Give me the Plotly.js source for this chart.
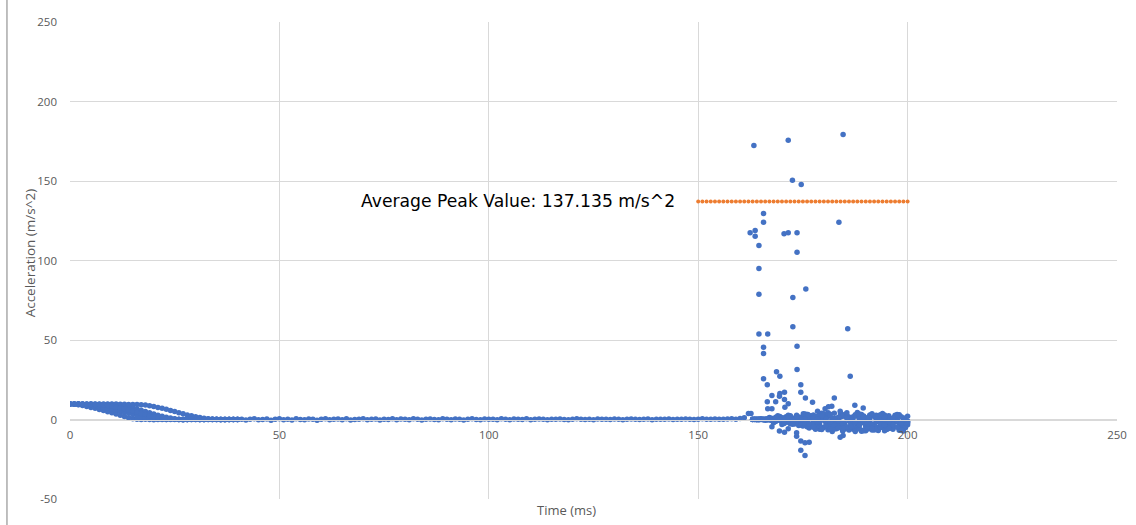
<!DOCTYPE html>
<html>
<head>
<meta charset="utf-8">
<script src="https://cdn.plot.ly/plotly-3.0.1.min.js"></script>
<style>html,body{margin:0;padding:0;background:#fff;}#chart{width:1136px;height:525px;}</style>
</head>
<body>
<div id="chart"></div>
<script>
// ---- data ----
// drop phase (0-40 ms), five overlaid trials
const dropTime = [0,1,2,3,4,5,6,7,8,9,10,11,12,13,14,15,16,17,18,19,20,21,22,23,24,25,26,27,28,29,30,31,32,33,34,35,36,37,38,39,40];
const drop1 = [9.8,9.6,9.3,8.8,8.2,7.6,7.0,6.3,5.6,4.9,4.2,3.5,2.7,1.9,1.1,0.4,0.1,0,0.1,0,-0.1,0,0.1,0,0,0.1,0,-0.1,0,0,0.1,0,0,0.1,0,0,-0.1,0,0.1,0,0];
const drop2 = [9.8,9.8,9.7,9.7,9.6,9.3,8.8,8.2,7.6,7.0,6.4,5.8,5.2,4.6,3.9,3.2,2.5,1.8,1.2,0.7,0.3,0.1,0,0,0.1,0,0,-0.1,0,0.1,0,0,0,0.1,0,0,0,-0.1,0,0,0.1];
const drop3 = [9.6,9.6,9.5,9.6,9.5,9.5,9.6,9.5,9.4,9.5,9.4,9.3,9.1,8.6,8.0,7.3,6.6,5.8,5.0,4.2,3.4,2.7,2.0,1.4,0.9,0.5,0.2,0.1,0,0,0.1,0,0,0,0.1,0,0,0,0,0.1,0];
const drop4 = [9.9,9.8,9.9,9.8,9.8,9.9,9.8,9.8,9.7,9.8,9.7,9.7,9.6,9.6,9.5,9.5,9.4,9.3,9.1,8.7,8.2,7.6,7.0,6.4,5.7,5.0,4.3,3.6,2.9,2.3,1.7,1.2,0.8,0.5,0.3,0.2,0.1,0.1,0,0,0];
const drop5 = [9.7,9.7,9.7,9.6,9.6,9.5,9.5,9.4,9.2,8.8,8.3,7.7,7.1,6.5,5.9,5.2,4.5,3.8,3.1,2.4,1.8,1.2,0.7,0.4,0.2,0.1,0,0,0,0.1,0,0,0,0,0,0.1,0,0,0,0,0];

// free-fall phase (41-162 ms)
const fallTime = [41,42,43,44,45,46,47,48,49,50,51,52,53,54,55,56,57,58,59,60,61,62,63,64,65,66,67,68,69,70,71,72,73,74,75,76,77,78,79,80,81,82,83,84,85,86,87,88,89,90,91,92,93,94,95,96,97,98,99,100,101,102,103,104,105,106,107,108,109,110,111,112,113,114,115,116,117,118,119,120,121,122,123,124,125,126,127,128,129,130,131,132,133,134,135,136,137,138,139,140,141,142,143,144,145,146,147,148,149,150,151,152,153,154,155,156,157,158,159,160,161,162];
const fallAcc = [0.2,-0.3,0.1,0.4,-0.2,0,0.3,-0.4,0.2,0.5,-0.1,0.2,-0.3,0.4,0,-0.2,0.3,0.1,-0.4,0.2,0.5,-0.2,0.1,0.3,-0.1,0.4,-0.3,0,0.2,0.4,-0.2,0.1,0.3,-0.3,0.2,0,0.4,-0.2,0.3,0.1,-0.1,0.5,0.2,-0.3,0.1,0.3,0,-0.2,0.4,0.2,-0.1,0.3,0.1,-0.3,0.2,0.4,0,-0.2,0.3,0.1,0.2,-0.2,0.4,0.1,-0.1,0.3,0.2,0,0.4,-0.2,0.1,0.3,0.2,-0.1,0.2,0.1,0.3,0,-0.2,0.2,0.4,0.1,0,0.2,-0.1,0.3,0.1,0.2,0,0.3,0.2,-0.1,0.1,0.3,0.2,0,0.1,0.3,-0.1,0.2,0.2,0.1,0.3,0,0.2,0.1,0.3,0.2,0,0.1,0.4,0.2,0.1,0.3,0.2,0.1,0.3,0.4,0.2,0.6,1.1,3.8];

// impact phase (163-200 ms), dense oscillation of the overlaid trials
const impactTime = [163,164,165,166,167,168,169,170,171,172,173,174,175,176,177,178,179,180,181,182,183,184,185,186,187,188,189,190,191,192,193,194,195,196,197,198,199,200];
const impact1 = [0,0.2,0.1,-0.5,1.2,-2.1,2.3,-3.1,1.8,-2.6,0.9,-3.8,2.1,-4.5,1.5,-3.2,2.8,-5.1,1.9,-4.2,0.6,-3.5,2.2,-5.4,1.1,-3.9,0.4,-4.6,2.5,-3.1,1.2,-4.8,0.3,-2.9,1.7,-4.1,0.8,-3.3];
const impact2 = [0.1,0,0.3,0.1,0,-0.2,0.4,1.1,-1.5,2.4,-2.8,0.6,-1.9,3.1,-4.2,1.4,-6.1,2.7,-3.3,0.2,-5.5,3.4,-2.4,-0.8,-6.2,2.1,-1.7,-3.6,1.5,-5.8,-0.4,0.9,-4.4,-1.8,2.6,-5.2,-0.6,-2.2];
const impact3 = [0,0.1,0,0.2,0,0.1,-0.1,0,0.2,0.5,-0.8,1.6,-2.3,0.9,2.4,-3.7,-1.2,3.6,-6.4,0.5,-2.7,4.1,-3.9,-6.6,1.8,-2.2,3.2,-7.1,-0.9,1.9,-4.9,2.3,-6.3,0.7,-1.4,3.0,-5.6,-1.1];
const impact4 = [0.2,0,0.1,0,-0.1,0.1,0,0.3,0.1,0,0.2,-0.3,0.4,-1.1,2.2,0.8,-3.4,-0.5,4.2,-2.1,-5.8,1.6,3.1,-4.8,-1.5,4.4,-6.7,0.2,2.9,-3.8,-6.9,3.7,-0.3,-5.4,1.3,-3.0,-7.2,2.0];
const impact5 = [0,-0.1,0.1,0,0.3,-0.4,0.9,-1.6,0.3,-2.4,-0.7,1.3,-4.1,-2.9,0.4,-6.2,-1.8,1.1,-4.4,-7.5,-0.9,-3.1,-6.0,1.5,-5.1,-2.6,-7.4,-0.2,-4.3,-6.6,1.0,-2.4,-5.9,-3.5,-0.8,-6.8,-4.0,-1.6];
const impactTimeHalf = [163.5,164.5,165.5,166.5,167.5,168.5,169.5,170.5,171.5,172.5,173.5,174.5,175.5,176.5,177.5,178.5,179.5,180.5,181.5,182.5,183.5,184.5,185.5,186.5,187.5,188.5,189.5,190.5,191.5,192.5,193.5,194.5,195.5,196.5,197.5,198.5,199.5];
const impact6 = [0.1,0,0.2,-0.3,0.8,-1.2,1.9,-2.5,2.7,-1.4,0.3,-3.2,1.6,-5.3,2.8,-4.0,0.9,-2.2,3.3,-6.0,-1.3,2.0,-4.7,-0.5,3.0,-5.9,-2.1,1.2,-3.4,-6.3,0.6,-1.9,2.4,-4.5,-0.7,1.8,-5.0];
const impact7 = [0,0.1,0,0.2,-0.1,0.3,-0.6,0.9,-1.8,0.4,2.6,-3.5,-0.2,1.7,-4.8,-2.3,3.9,-1.0,-5.6,-3.0,1.4,-6.8,2.5,-2.8,-5.3,0.1,-7.0,-3.9,3.6,-1.6,-5.1,2.9,-3.7,-6.1,0.5,-2.6,-4.2];
const impact8 = [0.2,0,0.1,0,0.2,0,0.1,-0.2,0.4,-0.9,1.3,-2.0,0.7,-3.3,-1.5,2.1,-5.0,-0.6,-2.9,4.0,-4.1,-7.3,0.8,-3.2,-6.4,3.5,-1.2,-6.0,-3.0,2.7,-4.6,-7.1,-0.4,-3.8,3.2,-6.5,-2.0];
const impact9 = [0,-0.1,0,0.1,0,-0.2,0.2,0,0.3,-0.4,-1.1,0.6,-2.4,-4.3,1.1,-1.7,-6.3,0.3,2.9,-3.6,-0.8,-5.4,1.9,-2.3,-7.6,-1.1,2.2,-4.9,-6.6,0.0,-2.7,1.6,-5.7,-3.1,-1.0,-6.9,0.9];
const impact10 = [0.1,0.3,-0.2,0.5,-0.7,1.4,-0.3,-2.2,0.9,-3.0,1.8,-0.5,3.4,-2.7,-4.6,0.5,2.3,-3.9,-1.6,0.7,-5.2,-2.4,4.3,-4.4,-1.9,-3.6,1.5,-2.5,-5.5,-1.3,3.0,-3.3,-1.4,1.0,-4.8,-2.1,-0.3];

// impact outliers (scattered spikes)
const spikeTime = [163.3,171.5,184.6,172.5,174.6,165.6,165.6,183.6,162.4,163.6,163.6,170.5,171.5,173.6,164.5,173.6,164.5,164.5,175.7,172.6,172.6,185.7,164.5,166.6,165.6,165.6,173.6,173.6,168.7,169.5,186.3,165.6,166.5,174.5,174.5,175.6,169.5,170.6,167.6,169.4,166.5,168.5,170.6,171.5,170.7,167.6,166.6,177.3,182.5,181.9,181.1,180.3,178.5,187.4,189.4,162.6,175.1,176.2,183.9,167.6,169.4,170.6,171.5,173.5,173.5,174.5,175.5,176.5,174.5,175.5,183.9,184.6];
const spikeAcc = [172.3,175.7,179.2,150.5,147.8,129.6,124.1,124.1,117.4,118.9,115.3,116.8,117.4,117.4,109.4,105.2,95,78.8,82,76.7,58.3,57,53.7,53.7,45.5,41.5,46.1,31.4,30,27.2,27.2,25.6,21.8,21.8,17.2,13.6,16.4,17.2,15.1,14.7,11.1,11.1,12.6,9.9,7.7,6.7,6.7,10.9,13.6,8.4,8,6.7,5.2,9,7.3,3.8,3.6,3.1,5.2,-4.6,-7.3,-8,-5.8,-8.4,-10.5,-13.6,-14.7,-14.3,-19.3,-22.6,-11.1,-10.1];

// average peak line
const avgTime = [150,151,152,153,154,155,156,157,158,159,160,161,162,163,164,165,166,167,168,169,170,171,172,173,174,175,176,177,178,179,180,181,182,183,184,185,186,187,188,189,190,191,192,193,194,195,196,197,198,199,200];
const avgAcc = [137.135,137.135,137.135,137.135,137.135,137.135,137.135,137.135,137.135,137.135,137.135,137.135,137.135,137.135,137.135,137.135,137.135,137.135,137.135,137.135,137.135,137.135,137.135,137.135,137.135,137.135,137.135,137.135,137.135,137.135,137.135,137.135,137.135,137.135,137.135,137.135,137.135,137.135,137.135,137.135,137.135,137.135,137.135,137.135,137.135,137.135,137.135,137.135,137.135,137.135,137.135];
const avgLabel = "Average Peak Value: 137.135 m/s^2";

const xTicks = [0,50,100,150,200,250];
const yTicks = [-50,0,50,100,150,200,250];

// ---- drawing ----
const BLUE = '#4472C4', ORANGE = '#ED7D31';
function blue(x, y) {
  return {x: x, y: y, type: 'scatter', mode: 'markers', showlegend: false, hoverinfo: 'x+y',
          marker: {color: BLUE, size: 5.5, line: {width: 0}}};
}
const traces = [
  blue(dropTime, drop1), blue(dropTime, drop2), blue(dropTime, drop3), blue(dropTime, drop4), blue(dropTime, drop5),
  blue(fallTime, fallAcc),
  blue(impactTime, impact1), blue(impactTime, impact2), blue(impactTime, impact3), blue(impactTime, impact4), blue(impactTime, impact5),
  blue(impactTimeHalf, impact6), blue(impactTimeHalf, impact7), blue(impactTimeHalf, impact8), blue(impactTimeHalf, impact9), blue(impactTimeHalf, impact10),
  blue(spikeTime, spikeAcc),
  {x: avgTime, y: avgAcc, type: 'scatter', mode: 'markers', showlegend: false,
   marker: {color: ORANGE, size: 4, line: {width: 0}}}
];

const FONT = '"Open Sans", Lato, sans-serif';
const tickFont = {family: FONT, size: 11.5, color: '#595959'};
const layout = {
  width: 1136, height: 525,
  margin: {l: 70, r: 19, t: 22, b: 26},
  paper_bgcolor: '#ffffff', plot_bgcolor: '#ffffff',
  showlegend: false,
  xaxis: {range: [0, 250], tickvals: xTicks, ticktext: xTicks.map(String), showgrid: true, gridcolor: '#d9d9d9', gridwidth: 1,
          zeroline: false, showline: true, linecolor: '#d9d9d9', linewidth: 1, ticks: '',
          anchor: 'free', position: 50/300, tickfont: tickFont, ticklabelstandoff: 5, fixedrange: true},
  yaxis: {range: [-50, 250], tickvals: yTicks, ticktext: yTicks.map(String), showgrid: true, gridcolor: '#d9d9d9', gridwidth: 1,
          zeroline: false, showline: false, ticks: '', tickfont: tickFont, ticklabelstandoff: 12, fixedrange: true},
  annotations: [
    {text: avgLabel, x: 145, y: 137.135, xref: 'x', yref: 'y', xanchor: 'right', yanchor: 'middle', showarrow: false,
     font: {family: '"DejaVu Sans", sans-serif', size: 17.2, color: '#000000'}},
    {text: 'Time (ms)', x: 0.474, y: -0.023, xref: 'paper', yref: 'paper', xanchor: 'center', yanchor: 'middle', showarrow: false,
     font: {family: FONT, size: 13, color: '#595959'}},
    {text: 'Acceleration (m/s^2)', x: -0.0382, y: 0.515, xref: 'paper', yref: 'paper', xanchor: 'center', yanchor: 'middle', textangle: -90, showarrow: false,
     font: {family: FONT, size: 13.5, color: '#595959'}}
  ],
  shapes: [
    {type: 'line', xref: 'paper', yref: 'paper', x0: -0.0602, x1: -0.0602, y0: -0.06, y1: 1.05, line: {color: '#7f7f7f', width: 1}}
  ]
};
Plotly.newPlot('chart', traces, layout, {displayModeBar: false, staticPlot: true});
</script>
</body>
</html>
